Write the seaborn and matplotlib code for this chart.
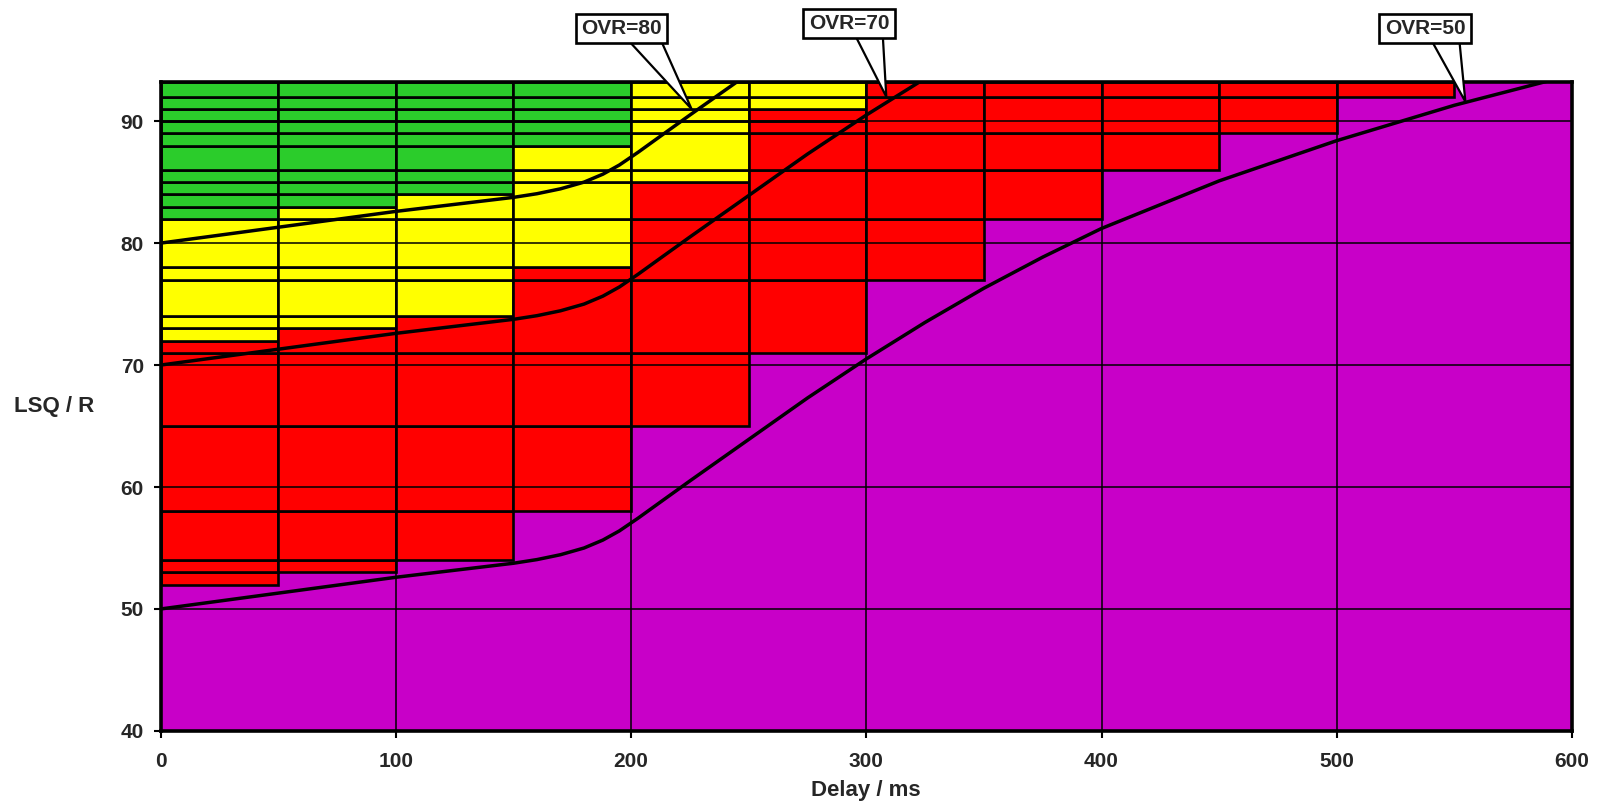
import matplotlib
matplotlib.use("Agg")
import matplotlib.pyplot as plt
import pandas as pd
import seaborn as sns

# delay bands (ms), each 50 ms wide
band_left = [0, 50, 100, 150, 200, 250, 300, 350, 400, 450, 500, 550]
band_width = 50
lsq_top = 93.2

# segment edges of each band, bottom to top (LSQ / R)
segment_edges = [
    [52, 53, 54, 58, 65, 71, 72, 73, 74, 77, 78, 82, 83, 84, 85, 86, 88, 89, 90, 91, 92, 93.2],
    [53, 54, 58, 65, 71, 73, 74, 77, 78, 82, 83, 84, 85, 86, 88, 89, 90, 91, 92, 93.2],
    [54, 58, 65, 71, 74, 77, 78, 82, 84, 85, 86, 88, 89, 90, 91, 92, 93.2],
    [58, 65, 71, 77, 78, 82, 85, 86, 88, 89, 90, 91, 92, 93.2],
    [65, 71, 77, 82, 85, 86, 89, 90, 91, 92, 93.2],
    [71, 77, 82, 86, 89, 90, 91, 92, 93.2],
    [77, 82, 86, 89, 92, 93.2],
    [82, 86, 89, 92, 93.2],
    [86, 89, 92, 93.2],
    [89, 92, 93.2],
    [92, 93.2],
    [],
]
# LSQ where yellow / green start in each band (93.2 = never)
yellow_from = [72, 73, 74, 78, 85, 91, 93.2, 93.2, 93.2, 93.2, 93.2, 93.2]
green_from = [82, 83, 84, 88, 93.2, 93.2, 93.2, 93.2, 93.2, 93.2, 93.2, 93.2]

# OVR iso-lines
delay_pts = [0, 50, 100, 150, 160, 170, 180, 188, 195, 203, 212, 225, 250,
             275, 300, 325, 350, 375, 400, 450, 500, 550, 600]
ovr80 = [80, 81.3, 82.6, 83.75, 84.05, 84.45, 85.0, 85.65, 86.4, 87.45, 88.7,
         90.5, 93.9]
ovr70 = [70, 71.3, 72.6, 73.75, 74.05, 74.45, 75.0, 75.65, 76.4, 77.45, 78.7,
         80.5, 83.9, 87.3, 90.5, 93.5, 96.3]
ovr50 = [50, 51.3, 52.6, 53.75, 54.05, 54.45, 55.0, 55.65, 56.4, 57.45, 58.7,
         60.5, 63.9, 67.3, 70.5, 73.5, 76.3, 78.85, 81.2, 85.1, 88.4, 91.3, 93.8]

labels = ["OVR=80", "OVR=70", "OVR=50"]
label_pos = [(195.9, 97.6), (292.7, 98.0), (537.6, 97.6)]
label_tip = [(225.7, 91.0), (308.5, 92.0), (554.7, 91.6)]

c_red = "#FF0000"
c_yellow = "#FFFF00"
c_green = "#2BCC2B"
c_purple = "#C800C8"

sns.set_theme(style="white")
plt.rcParams["font.family"] = ["Liberation Sans", "DejaVu Sans"]
plt.rcParams["font.weight"] = "bold"

fig = plt.figure(figsize=(16.05, 8.05), dpi=100)
ax = fig.add_axes([0.1001, 0.092, 0.8793, 0.806])
ax.set_facecolor(c_purple)

for i, left in enumerate(band_left):
    edges = segment_edges[i]
    for lo, hi in zip(edges[:-1], edges[1:]):
        if lo >= green_from[i]:
            col = c_green
        elif lo >= yellow_from[i]:
            col = c_yellow
        else:
            col = c_red
        ax.bar(left, hi - lo, bottom=lo, width=band_width, align="edge",
               color=col, edgecolor="black", linewidth=1.9, zorder=1)

curves = pd.concat([
    pd.DataFrame({"delay": delay_pts[:len(v)], "lsq": v, "ovr": name})
    for name, v in zip(labels, [ovr80, ovr70, ovr50])
])
sns.lineplot(data=curves, x="delay", y="lsq", units="ovr", estimator=None,
             sort=False, color="black", linewidth=2.5, ax=ax, zorder=4)

for text, pos, tip in zip(labels, label_pos, label_tip):
    ax.annotate(text, xy=tip, xytext=pos, ha="center", va="center",
                fontsize=15, fontweight="bold", annotation_clip=False, zorder=6,
                bbox=dict(boxstyle="square,pad=0.26", fc="white", ec="black", lw=1.9),
                arrowprops=dict(arrowstyle="wedge,tail_width=1.5", fc="white",
                                ec="black", lw=1.6, relpos=(0.72, 0.45),
                                patchA=None, shrinkA=0, shrinkB=0))

ax.set_xlim(0, 600)
ax.set_ylim(40, lsq_top)
ax.set_xticks([0, 100, 200, 300, 400, 500, 600])
ax.set_yticks([40, 50, 60, 70, 80, 90])
ax.set_axisbelow(False)
ax.grid(True, color="black", linewidth=1.1)
ax.tick_params(axis="both", direction="out", length=5, width=1.5, color="black",
               labelsize=15, pad=7, bottom=True, left=True)
ax.tick_params(axis="x", pad=10)
for lab in ax.get_xticklabels() + ax.get_yticklabels():
    lab.set_fontweight("bold")
for sp in ax.spines.values():
    sp.set_visible(True)
    sp.set_color("black")
    sp.set_linewidth(2.6)
    sp.set_zorder(5)

ax.set_xlabel("Delay / ms", fontsize=16, fontweight="bold", labelpad=7)
ax.set_ylabel("LSQ / R", fontsize=16, fontweight="bold", rotation=0,
              ha="center", va="center")
ax.yaxis.set_label_coords(-0.0756, 0.5)

fig.savefig("out.png", dpi=100, facecolor="white")
